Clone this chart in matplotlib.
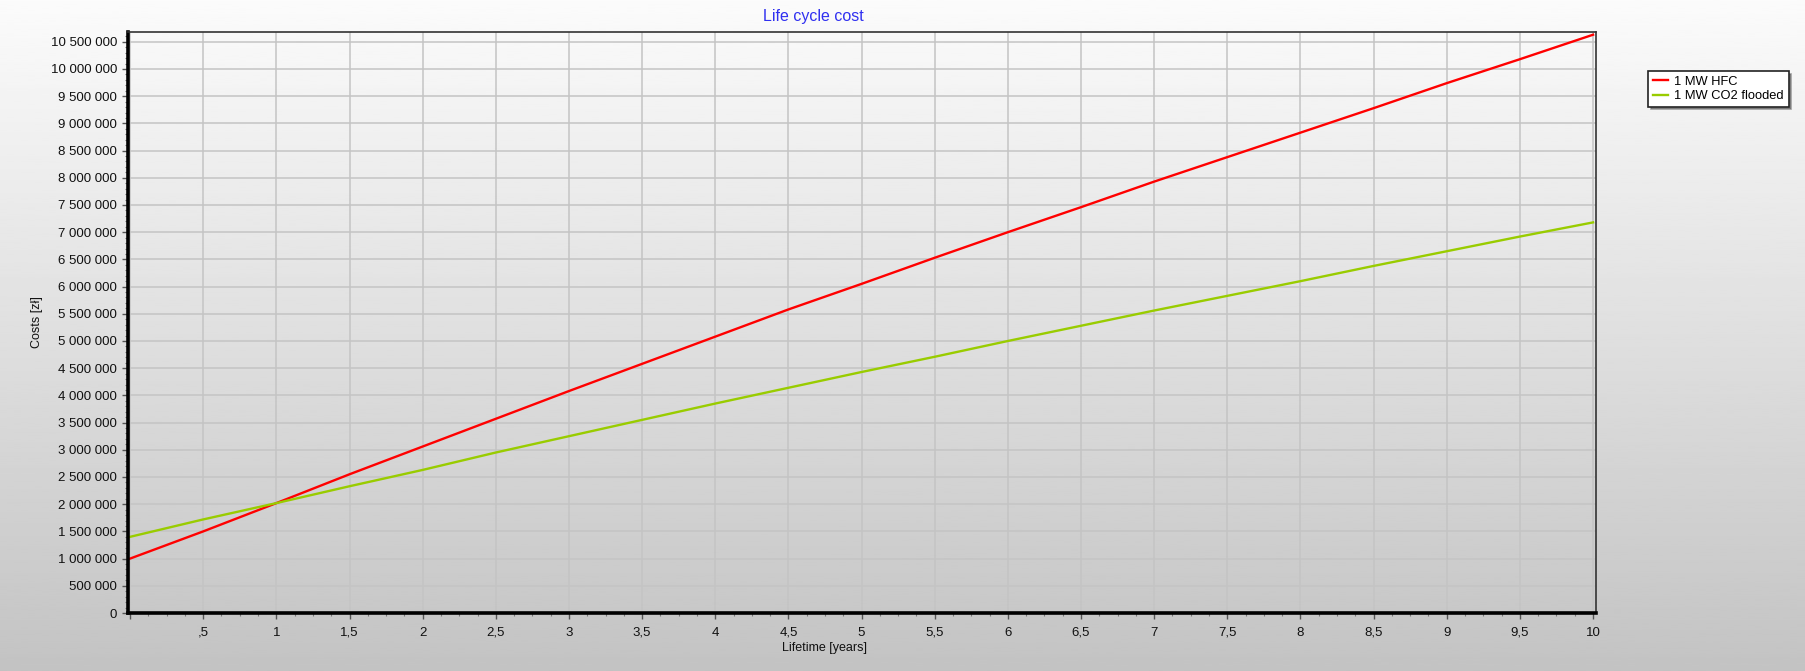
import numpy as np
import matplotlib
matplotlib.use('Agg')
import matplotlib.pyplot as plt
from matplotlib.ticker import FuncFormatter, MultipleLocator

plt.rcParams['font.family'] = ['Liberation Sans', 'DejaVu Sans']

# Lifetime in years and cumulative cost [zł]
years = [0, 0.5, 1, 1.5, 2, 2.5, 3, 3.5, 4, 4.5, 5, 5.5, 6, 6.5, 7, 7.5, 8, 8.5, 9, 9.5, 10]
hfc = [1.00, 1.50, 2.02, 2.55, 3.06, 3.57, 4.08, 4.58, 5.08, 5.58, 6.05,
       6.53, 7.00, 7.46, 7.93, 8.38, 8.83, 9.28, 9.74, 10.18, 10.63]
co2 = [1.40, 1.72, 2.02, 2.33, 2.63, 2.95, 3.25, 3.55, 3.85, 4.14, 4.43,
       4.71, 5.00, 5.28, 5.56, 5.83, 6.10, 6.38, 6.65, 6.92, 7.18]
hfc = [v * 1e6 for v in hfc]
co2 = [v * 1e6 for v in co2]
series_names = ['1 MW HFC', '1 MW CO2 flooded']

W, H = 1805, 671
fig = plt.figure(figsize=(W / 100, H / 100), dpi=100)

# background gradient for the whole figure
bg = fig.add_axes([0, 0, 1, 1], zorder=-10)
grad = np.linspace(0.985, 0.765, 256).reshape(-1, 1)
bg.imshow(grad, aspect='auto', cmap='gray', vmin=0, vmax=1, extent=[0, 1, 0, 1])
bg.axis('off')

ax = fig.add_axes([128 / W, 1 - 613 / H, (1596 - 128) / W, (613 - 32) / H])
ax.patch.set_alpha(0)

ax.plot(years, hfc, color='#ff0000', lw=1.7, label=series_names[0])
ax.plot(years, co2, color='#99cc00', lw=1.7, label=series_names[1])

ax.set_xlim(-0.014, 10.02)
ax.set_ylim(0, 10.68e6)

ax.xaxis.set_major_locator(MultipleLocator(0.5))
ax.xaxis.set_minor_locator(MultipleLocator(0.125))
ax.yaxis.set_major_locator(MultipleLocator(500000))
ax.yaxis.set_minor_locator(MultipleLocator(100000))


def xfmt(v, pos):
    if abs(v) < 1e-9:
        return ''
    s = ('%g' % v).replace('.', ',')
    if s.startswith('0,'):
        s = s[1:]
    return s


def yfmt(v, pos):
    return '{:,.0f}'.format(v).replace(',', ' ')


ax.xaxis.set_major_formatter(FuncFormatter(xfmt))
ax.yaxis.set_major_formatter(FuncFormatter(yfmt))

ax.grid(True, which='major', color='#c4c4c4', lw=1.1)
ax.set_axisbelow(True)

ax.tick_params(which='major', direction='out', length=4, width=1, colors='#555555',
               labelcolor='#111111', labelsize=9.5, pad=4)
ax.tick_params(which='minor', direction='out', length=2.5, width=0.8, colors='#777777')
ax.tick_params(axis='x', which='major', pad=6)

for side in ['left', 'bottom']:
    ax.spines[side].set_linewidth(2.6)
    ax.spines[side].set_color('black')
for side in ['top', 'right']:
    ax.spines[side].set_linewidth(1.2)
    ax.spines[side].set_color('#333333')

fig.text(813 / W, 1 - 16 / H, 'Life cycle cost', color='#3030f0', fontsize=11.5,
         ha='center', va='center')
fig.text(37 / W, 1 - 322 / H, 'Costs [zł]', rotation=90, fontsize=9,
         ha='center', va='center', color='#111111')
fig.text(824 / W, 1 - 648 / H, 'Lifetime [years]', fontsize=9,
         ha='center', va='center', color='#111111')

leg = fig.legend(loc='upper left', bbox_to_anchor=(1648 / W, 1 - 71 / H),
                 fontsize=9.3, frameon=True, fancybox=False, shadow=True,
                 handlelength=1.2, handletextpad=0.5, borderpad=0.35,
                 labelspacing=0.2, borderaxespad=0)
leg.get_frame().set_edgecolor('#222222')
leg.get_frame().set_linewidth(1.2)
leg.get_frame().set_facecolor('white')
leg.get_frame().set_alpha(1)

plt.savefig('out.png', dpi=100)
